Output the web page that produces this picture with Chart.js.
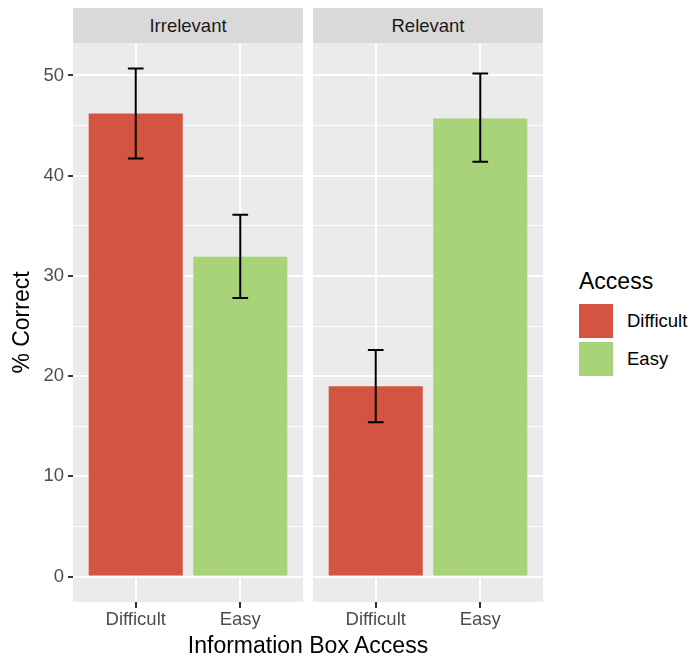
<!DOCTYPE html>
<html>
<head>
<meta charset="utf-8">
<script src="https://cdn.jsdelivr.net/npm/chart.js@4.4.0/dist/chart.umd.min.js"></script>
<style>
  body { margin: 0; background: #fff; font-family: "Liberation Sans", Arial, sans-serif; }
  #wrap { position: relative; width: 691px; height: 660px; }
  canvas { position: absolute; top: 0; }
  .strip { position: absolute; top: 8px; height: 35px; background: #d9d9d9; color: #1a1a1a;
           font-size: 18.5px; line-height: 35px; text-align: center; }
  #xtitle { position: absolute; left: 73px; width: 470px; top: 632px; font-size: 23px;
            line-height: 26px; text-align: center; color: #000; }
  #legTitle { position: absolute; left: 579px; top: 268px; font-size: 23px; line-height: 26px; color: #000; }
  .key { position: absolute; left: 579px; width: 34px; height: 34px; }
  .legLab { position: absolute; left: 627px; font-size: 18.5px; line-height: 22px; color: #000; }
</style>
</head>
<body>
<div id="wrap">
  <canvas id="left" width="303" height="660" style="left:0"></canvas>
  <canvas id="right" width="230" height="660" style="left:313px"></canvas>
  <div class="strip" id="strip0" style="left:73px;width:230px"></div>
  <div class="strip" id="strip1" style="left:313px;width:230px"></div>
  <div id="xtitle">Information Box Access</div>
  <div id="legTitle">Access</div>
</div>
<script>
// --- Daten ---
const facets = ['Irrelevant', 'Relevant'];
const categories = ['Difficult', 'Easy'];
const irrelevantPct = [46.2, 31.9];
const irrelevantLow = [41.7, 27.8];
const irrelevantHigh = [50.7, 36.1];
const relevantPct = [19.0, 45.7];
const relevantLow = [15.4, 41.4];
const relevantHigh = [22.6, 50.2];
const yMajorTicks = [0, 10, 20, 30, 40, 50];
const yMinorTicks = [5, 15, 25, 35, 45];
const barColors = ['#D35541', '#A9D378'];

Chart.defaults.font.family = '"Liberation Sans", Arial, sans-serif';

// ggplot-artige Achsenbereiche
const yMaxData = Math.max(...irrelevantHigh, ...relevantHigh);
const yMin = -0.05 * yMaxData;
const yMax = yMaxData * 1.05;

// Panel-Hintergrund + Fehlerbalken
const panelPlugin = {
    id: 'panel',
    beforeDraw(chart) {
        const { ctx, chartArea: a } = chart;
        ctx.save();
        ctx.fillStyle = '#ebebeb';
        ctx.fillRect(a.left, a.top, a.right - a.left, a.bottom - a.top);
        ctx.restore();
    },
    afterDatasetsDraw(chart, args, opts) {
        const { ctx, scales: { x, y } } = chart;
        ctx.save();
        ctx.strokeStyle = '#000';
        ctx.lineWidth = 2;
        opts.low.forEach((lo, i) => {
            const xc = x.getPixelForValue(i + 1);
            const half = x.getPixelForValue(i + 1 + opts.cap / 2) - xc;
            const yl = y.getPixelForValue(lo);
            const yh = y.getPixelForValue(opts.high[i]);
            ctx.beginPath();
            ctx.moveTo(xc, yl); ctx.lineTo(xc, yh);
            ctx.moveTo(xc - half, yl); ctx.lineTo(xc + half, yl);
            ctx.moveTo(xc - half, yh); ctx.lineTo(xc + half, yh);
            ctx.stroke();
        });
        ctx.restore();
    }
};

function makePanel(id, pct, low, high, showY) {
    return new Chart(document.getElementById(id), {
        type: 'bar',
        data: {
            datasets: [{
                data: pct.map((v, i) => ({ x: i + 1, y: v })),
                backgroundColor: barColors,
                borderWidth: 0,
                barPercentage: 0.9,
                categoryPercentage: 1
            }]
        },
        options: {
            responsive: false,
            animation: false,
            layout: { padding: { top: 43, left: 0, right: 0, bottom: 0 } },
            plugins: {
                legend: { display: false },
                tooltip: { enabled: false },
                panel: { low: low, high: high, cap: 0.15 }
            },
            scales: {
                x: {
                    type: 'linear',
                    min: 0.4, max: 2.6,
                    offset: false,
                    afterBuildTicks: s => { s.ticks = categories.map((c, i) => ({ value: i + 1 })); },
                    afterFit: s => { s.height = 58; },
                    ticks: {
                        color: '#4d4d4d',
                        font: { size: 18.5 },
                        padding: 1,
                        callback: v => categories[v - 1]
                    },
                    grid: { color: '#fff', lineWidth: 2, offset: false, tickColor: '#333', tickLength: 6, tickWidth: 2 },
                    border: { display: false }
                },
                y: {
                    min: yMin, max: yMax,
                    afterBuildTicks: s => {
                        s.ticks = yMajorTicks.concat(yMinorTicks).sort((a, b) => a - b).map(v => ({ value: v }));
                    },
                    afterFit: s => { s.width = showY ? 73 : 0; },
                    title: {
                        display: showY,
                        text: '% Correct',
                        color: '#000',
                        font: { size: 23 },
                        padding: { top: 9, bottom: 0 }
                    },
                    ticks: {
                        display: showY,
                        color: '#4d4d4d',
                        font: { size: 18.5 },
                        padding: 4,
                        callback: v => yMajorTicks.includes(v) ? v : ''
                    },
                    grid: {
                        color: '#fff',
                        lineWidth: c => yMajorTicks.includes(c.tick.value) ? 2 : 1,
                        drawTicks: showY,
                        tickLength: showY ? 5 : 0,
                        tickWidth: 2,
                        tickColor: c => yMajorTicks.includes(c.tick.value) ? '#333' : 'rgba(0,0,0,0)'
                    },
                    border: { display: false }
                }
            }
        },
        plugins: [panelPlugin]
    });
}

makePanel('left', irrelevantPct, irrelevantLow, irrelevantHigh, true);
makePanel('right', relevantPct, relevantLow, relevantHigh, false);

// Streifen + Legende
facets.forEach((f, i) => { document.getElementById('strip' + i).textContent = f; });
const wrap = document.getElementById('wrap');
categories.forEach((c, i) => {
    const k = document.createElement('div');
    k.className = 'key';
    k.style.top = (304 + i * 38) + 'px';
    k.style.background = barColors[i];
    wrap.appendChild(k);
    const l = document.createElement('div');
    l.className = 'legLab';
    l.style.top = (310 + i * 38) + 'px';
    l.textContent = c;
    wrap.appendChild(l);
});
</script>
</body>
</html>
